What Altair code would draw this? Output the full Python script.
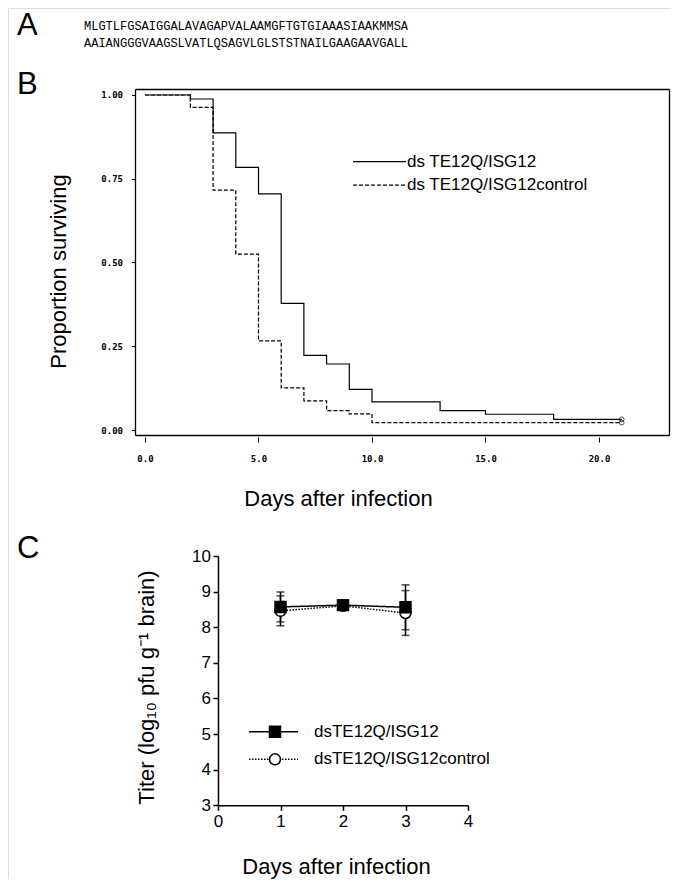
import altair as alt
import pandas as pd

# ---------------- data ----------------
# Panel A: peptide sequence
seq_lines = ["MLGTLFGSAIGGALAVAGAPVALAAMGFTGTGIAAASIAAKMMSA",
             "AAIANGGGVAAGSLVATLQSAGVLGLSTSTNAILGAAGAAVGALL"]

# Panel B: Kaplan-Meier survival
b_series = ["ds TE12Q/ISG12", "ds TE12Q/ISG12control"]
b_days_isg = [0, 2, 3, 4, 5, 6, 7, 8, 9, 10, 13, 15, 18, 21]
b_surv_isg = [1.0, 0.988, 0.887, 0.784, 0.705, 0.378, 0.223, 0.197, 0.121, 0.084, 0.058, 0.047, 0.032, 0.032]
b_days_ctl = [0, 2, 3, 4, 5, 6, 7, 8, 9, 10, 21]
b_surv_ctl = [1.0, 0.963, 0.716, 0.525, 0.266, 0.126, 0.087, 0.058, 0.048, 0.022, 0.022]
b_censor_day = [21]
b_x_ticks = [0, 5, 10, 15, 20]
b_y_ticks = [0.0, 0.25, 0.5, 0.75, 1.0]

# Panel C: brain titers
c_series = ["dsTE12Q/ISG12", "dsTE12Q/ISG12control"]
c_days = [1, 2, 3]
c_mean_isg = [8.57, 8.62, 8.56]
c_sd_isg = [0.42, 0.05, 0.63]
c_mean_ctl = [8.46, 8.60, 8.40]
c_sd_ctl = [0.42, 0.05, 0.63]
c_x_ticks = [0, 1, 2, 3, 4]
c_y_ticks = [3, 4, 5, 6, 7, 8, 9, 10]

# ---------------- layout ----------------
W, H = 663, 871
SANS = "Liberation Sans"
MONO_B = "DejaVu Sans Mono"

# ---------------- panel A ----------------
seq_df = pd.DataFrame({"row": [0, 1], "seq": seq_lines})
seq_chart = alt.Chart(seq_df).mark_text(
    align="left", baseline="middle", font="Liberation Mono", fontSize=12, color="black"
).encode(
    x=alt.value(76),
    y=alt.Y("row:Q", scale=alt.Scale(domain=[0, 1], range=[18, 35]), axis=None),
    text="seq:N",
)


def letter(t, y):
    return alt.Chart(pd.DataFrame({"t": [t]})).mark_text(
        align="left", baseline="middle", font=SANS, fontSize=31, color="black"
    ).encode(x=alt.value(9), y=alt.value(y), text="t:N")


# ---------------- panel B ----------------
b_solid_df = pd.DataFrame({"series": [b_series[0]] * len(b_days_isg), "day": b_days_isg, "surv": b_surv_isg})
b_dash_df = pd.DataFrame({"series": [b_series[1]] * len(b_days_ctl), "day": b_days_ctl, "surv": b_surv_ctl})

bxs = alt.Scale(domain=[-0.4405, 23.084], range=[127, 661], nice=False, zero=False)
bys = alt.Scale(domain=[-0.014925, 1.01791], range=[427, 81], nice=False, zero=False)
b_dash_scale = alt.Scale(domain=b_series, range=[[1, 0], [4, 2]])

b_legend = alt.Legend(
    title=None, orient="none", legendX=345, legendY=145.2, direction="vertical",
    symbolType="M-10,0H10", symbolSize=28.09, symbolStrokeWidth=1.2, symbolStrokeColor="black",
    symbolOffset=18, labelOffset=19, labelFont=SANS, labelFontSize=17, labelColor="black",
    labelLimit=400, rowPadding=5.5, padding=0,
)

B_XLAB = 446  # y of the label baseline-top row (plot coordinates)
# x labels (no ticks) + title
b_xlabel_axis = alt.Axis(
    orient="bottom", offset=B_XLAB - H, values=b_x_ticks, format=".1f", domain=False, grid=False,
    ticks=False, labelFont=MONO_B, labelFontWeight="bold", labelFontSize=9, labelColor="black",
    labelPadding=0, labelFlush=False,
    title="Days after infection", titleFont=SANS, titleFontSize=22, titleFontWeight="normal",
    titleColor="black", titleX=330, titleY=490.3 - B_XLAB, titleAlign="center", titleBaseline="middle")
# x ticks only, just below the frame
b_xtick_axis = alt.Axis(
    orient="bottom", offset=429 - H, values=b_x_ticks, domain=False, grid=False, ticks=True,
    tickSize=5, tickColor="black", tickWidth=1, labels=False, title=None)
b_yaxis = alt.Axis(
    orient="left", offset=-126.5, values=b_y_ticks, format=".2f", domain=False, grid=False,
    tickSize=3, tickColor="black", tickWidth=1, labelFont=MONO_B, labelFontWeight="bold",
    labelFontSize=9, labelColor="black", labelPadding=9,
    title="Proportion surviving", titleFont=SANS, titleFontSize=22, titleFontWeight="normal",
    titleColor="black", titleX=-76, titleY=263, titleAngle=270, titleAlign="center",
    titleBaseline="middle")

b_line_solid = alt.Chart(b_solid_df).mark_line(interpolate="step-after", color="black", strokeWidth=1.2).encode(
    x=alt.X("day:Q", scale=bxs, axis=b_xlabel_axis),
    y=alt.Y("surv:Q", scale=bys, axis=b_yaxis),
    strokeDash=alt.StrokeDash("series:N", scale=b_dash_scale, legend=b_legend),
)
b_line_dash = alt.Chart(b_dash_df).mark_line(interpolate="step-after", color="black", strokeWidth=1.2).encode(
    x=alt.X("day:Q", scale=bxs, axis=b_xtick_axis),
    y=alt.Y("surv:Q", scale=bys, axis=None),
    strokeDash=alt.StrokeDash("series:N", scale=b_dash_scale, legend=None),
)


def frame_axis(orient, offset):
    return alt.Axis(orient=orient, offset=offset, domain=True, domainColor="black", domainWidth=1.3,
                    ticks=False, labels=False, grid=False, title=None)


cens_isg = pd.DataFrame({"day": b_censor_day, "surv": [b_surv_isg[-1]]})
cens_ctl = pd.DataFrame({"day": b_censor_day, "surv": [b_surv_ctl[-1]]})

b_cens1 = alt.Chart(cens_isg).mark_point(shape="circle", size=22, color="black", strokeWidth=1, filled=False).encode(
    x=alt.X("day:Q", scale=bxs, axis=frame_axis("bottom", 427 - H)),
    y=alt.Y("surv:Q", scale=bys, axis=frame_axis("left", -127)),
)
b_cens2 = alt.Chart(cens_ctl).mark_point(shape="circle", size=22, color="black", strokeWidth=1, filled=False).encode(
    x=alt.X("day:Q", scale=bxs, axis=frame_axis("top", -81)),
    y=alt.Y("surv:Q", scale=bys, axis=frame_axis("right", 661 - W)),
)

# ---------------- panel C ----------------
c_err_df = pd.DataFrame({
    "series": [c_series[1]] * 3 + [c_series[0]] * 3,
    "day": c_days + c_days,
    "lo": [m - s for m, s in zip(c_mean_ctl, c_sd_ctl)] + [m - s for m, s in zip(c_mean_isg, c_sd_isg)],
    "hi": [m + s for m, s in zip(c_mean_ctl, c_sd_ctl)] + [m + s for m, s in zip(c_mean_isg, c_sd_isg)],
})
c_line_df = pd.DataFrame({
    "series": [c_series[1]] * 3 + [c_series[0]] * 3,
    "day": c_days + c_days,
    "mean": c_mean_ctl + c_mean_isg,
})

cxs = alt.Scale(domain=[0, 4], range=[210, 460], nice=False, zero=False)
cys = alt.Scale(domain=[3, 10], range=[797.3, 548], nice=False, zero=False)

c_xaxis = alt.Axis(
    orient="bottom", offset=797.3 - H, values=c_x_ticks, format="d", domain=True, domainColor="black",
    domainWidth=1.5, grid=False, tickSize=5, tickColor="black", tickWidth=1.5, labelFont=SANS,
    labelFontSize=17, labelColor="black", labelPadding=3, labelFlush=False,
    title="Days after infection", titleFont=SANS, titleFontSize=22, titleFontWeight="normal",
    titleColor="black", titleX=328, titleY=60.7, titleAlign="center", titleBaseline="middle")
c_yaxis = alt.Axis(
    orient="left", offset=-210, values=c_y_ticks, format="d", domain=True, domainColor="black",
    domainWidth=1.5, grid=False, tickSize=5, tickColor="black", tickWidth=1.5, labelFont=SANS,
    labelFontSize=17, labelColor="black", labelPadding=2.5,
    title="Titer (log₁₀ pfu g⁻¹ brain)", titleFont=SANS, titleFontSize=22, titleFontWeight="normal",
    titleColor="black", titleX=-71.8, titleY=679, titleAngle=270, titleAlign="center",
    titleBaseline="middle")

cx = alt.X("day:Q", scale=cxs, axis=c_xaxis)

c_rules = alt.Chart(c_err_df).mark_rule(color="black", strokeWidth=1.5).encode(
    x=cx, y=alt.Y("lo:Q", scale=cys, axis=c_yaxis), y2="hi:Q")
c_lo = alt.Chart(c_err_df).mark_tick(orient="horizontal", size=8, thickness=1.5, color="black").encode(
    x=cx, y=alt.Y("lo:Q", scale=cys, axis=c_yaxis))
c_hi = alt.Chart(c_err_df).mark_tick(orient="horizontal", size=8, thickness=1.5, color="black").encode(
    x=cx, y=alt.Y("hi:Q", scale=cys, axis=c_yaxis))

c_line_legend = alt.Legend(
    title=None, orient="none", legendX=241, legendY=715.2, direction="vertical",
    symbolType="M-10,0H10", symbolSize=24.01, symbolStrokeWidth=1.5, symbolStrokeColor="black",
    symbolOffset=16, labelOffset=32, labelFont=SANS, labelFontSize=17, labelColor="black",
    labelLimit=400, rowPadding=9.6, padding=0,
)
c_line = alt.Chart(c_line_df).mark_line(color="black", strokeWidth=1.5).encode(
    x=cx, y=alt.Y("mean:Q", scale=cys, axis=c_yaxis),
    strokeDash=alt.StrokeDash("series:N", scale=alt.Scale(domain=c_series, range=[[1, 0], [1.5, 1.5]]),
                              legend=c_line_legend),
)
c_main = alt.layer(c_rules, c_lo, c_hi, c_line)

c_sym_legend = alt.Legend(
    title=None, orient="none", legendX=241, legendY=715.2, direction="vertical",
    symbolOffset=17.5, symbolSize=120, symbolStrokeWidth=1.5, symbolStrokeColor="black",
    labelExpr="' '", labelFont=SANS, labelFontSize=17, rowPadding=9.6, padding=0,
)
c_points = alt.Chart(c_line_df).mark_point(filled=True, strokeWidth=1.5, size=120, opacity=1).encode(
    x=alt.X("day:Q", scale=cxs, axis=None),
    y=alt.Y("mean:Q", scale=cys, axis=None),
    shape=alt.Shape("series:N", scale=alt.Scale(domain=c_series, range=["square", "circle"]), legend=c_sym_legend),
    fill=alt.Fill("series:N", scale=alt.Scale(domain=c_series, range=["black", "white"]), legend=c_sym_legend),
    stroke=alt.Stroke("series:N", scale=alt.Scale(domain=c_series, range=["black", "black"]), legend=c_sym_legend),
)

chart = alt.layer(
    seq_chart, letter("A", 17.5), letter("B", 76.5), letter("C", 541),
    b_line_dash, b_line_solid, b_cens1, b_cens2, c_main, c_points,
).resolve_scale(
    x="independent", y="independent", strokeDash="independent", shape="independent",
    fill="independent", stroke="independent"
).resolve_axis(
    x="independent", y="independent"
).resolve_legend(
    strokeDash="independent", shape="independent", fill="independent", stroke="independent"
).properties(
    width=W, height=H, autosize=alt.AutoSizeParams(type="none"), padding=0
).configure_view(stroke=None).configure(background="white")

chart.save("out.html", embed_options={"renderer": "svg", "actions": False})
